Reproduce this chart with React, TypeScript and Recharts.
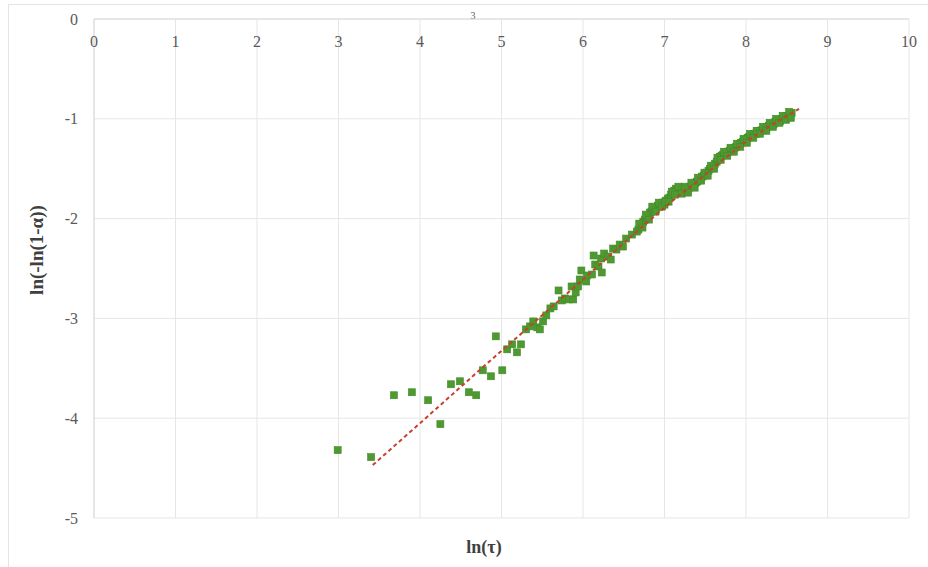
import { ScatterChart, Scatter, XAxis, YAxis, CartesianGrid } from 'recharts';

// sparse points at short times
const lowPoints: [number, number][] = [
  [2.99, -4.32], [3.4, -4.39], [3.68, -3.77], [3.9, -3.74], [4.1, -3.82],
  [4.25, -4.06], [4.38, -3.66], [4.49, -3.63], [4.6, -3.74], [4.69, -3.77],
  [4.77, -3.52], [4.87, -3.58], [4.93, -3.18], [5.01, -3.52],
];

const midPoints: [number, number][] = [
  [5.07, -3.31], [5.13, -3.26], [5.19, -3.34], [5.24, -3.26], [5.3, -3.11],
  [5.35, -3.08], [5.39, -3.03], [5.44, -3.09], [5.47, -3.11], [5.51, -3.03],
  [5.55, -2.97], [5.6, -2.9], [5.64, -2.88], [5.7, -2.72], [5.74, -2.82],
  [5.78, -2.8], [5.83, -2.81], [5.86, -2.68], [5.88, -2.81], [5.91, -2.74],
  [5.94, -2.68], [5.96, -2.61], [5.98, -2.52], [6.04, -2.63], [6.05, -2.57],
  [6.11, -2.56], [6.13, -2.37], [6.15, -2.46], [6.19, -2.48], [6.22, -2.4],
  [6.23, -2.54], [6.26, -2.35], [6.31, -2.38], [6.34, -2.41], [6.37, -2.3],
  [6.41, -2.31], [6.45, -2.26], [6.49, -2.28], [6.53, -2.2], [6.6, -2.16],
  [6.66, -2.13],
];

const densePoints: [number, number][] = [
  [6.68, -2.11], [6.7, -2.08], [6.72, -2.06], [6.74, -2.03], [6.76, -2.01],
  [6.78, -1.99], [6.8, -1.97], [6.82, -1.94], [6.84, -1.93], [6.86, -1.91],
  [6.88, -1.89], [6.9, -1.9], [6.92, -1.87], [6.94, -1.88], [6.96, -1.85],
  [6.98, -1.84], [7.0, -1.86], [7.02, -1.82], [7.04, -1.8], [7.06, -1.79],
  [7.08, -1.76], [7.1, -1.75], [7.12, -1.72], [7.14, -1.7], [7.16, -1.72],
  [7.18, -1.69], [7.2, -1.73], [7.22, -1.71], [7.24, -1.72], [7.26, -1.7],
  [7.28, -1.72], [7.3, -1.69], [7.32, -1.68], [7.34, -1.66], [7.36, -1.67],
  [7.38, -1.64], [7.4, -1.63], [7.42, -1.61], [7.44, -1.6], [7.46, -1.58],
  [7.48, -1.57], [7.5, -1.55], [7.52, -1.54], [7.54, -1.52], [7.56, -1.5],
  [7.58, -1.49], [7.6, -1.47], [7.62, -1.45], [7.64, -1.43], [7.66, -1.41],
  [7.68, -1.38], [7.7, -1.37], [7.72, -1.36], [7.74, -1.36], [7.76, -1.34],
  [7.78, -1.33], [7.8, -1.32], [7.82, -1.31], [7.84, -1.3], [7.86, -1.29],
  [7.88, -1.28], [7.9, -1.26], [7.92, -1.25], [7.94, -1.24], [7.96, -1.23],
  [7.98, -1.21], [8.0, -1.21], [8.02, -1.19], [8.04, -1.18], [8.06, -1.18],
  [8.08, -1.16], [8.1, -1.15], [8.12, -1.15], [8.14, -1.13], [8.16, -1.12],
  [8.18, -1.12], [8.2, -1.11], [8.22, -1.1], [8.24, -1.1], [8.26, -1.08],
  [8.28, -1.07], [8.3, -1.07], [8.32, -1.05], [8.34, -1.05], [8.36, -1.03],
  [8.38, -1.03], [8.4, -1.01], [8.42, -1.02], [8.44, -1.0], [8.46, -0.99],
  [8.48, -0.99], [8.5, -0.97], [8.52, -0.98], [8.54, -0.95], [8.56, -0.94],
  // second layer, gives the band its width
  [6.69, -2.05], [6.73, -2.09], [6.77, -1.96], [6.81, -2.01], [6.85, -1.88],
  [6.89, -1.93], [6.93, -1.84], [6.97, -1.88], [7.01, -1.83], [7.05, -1.83],
  [7.09, -1.73], [7.13, -1.76], [7.17, -1.68], [7.21, -1.75], [7.25, -1.68],
  [7.29, -1.74], [7.33, -1.64], [7.37, -1.69], [7.41, -1.59], [7.45, -1.62],
  [7.49, -1.54], [7.53, -1.57], [7.57, -1.47], [7.61, -1.5], [7.65, -1.39],
  [7.69, -1.41], [7.73, -1.33], [7.77, -1.37], [7.81, -1.29], [7.85, -1.33],
  [7.89, -1.25], [7.93, -1.28], [7.97, -1.2], [8.01, -1.24], [8.05, -1.15],
  [8.09, -1.19], [8.13, -1.12], [8.17, -1.15], [8.21, -1.08], [8.25, -1.12],
  [8.29, -1.04], [8.33, -1.08], [8.37, -1.0], [8.41, -1.04], [8.45, -0.97],
  [8.49, -1.01], [8.53, -0.93], [8.55, -0.99],
];

// fitted trend curve
const trendX = [3.42, 4.0, 4.77, 5.4, 6.0, 6.7, 7.1, 7.4, 7.7, 8.0, 8.3, 8.65];
const trendY = [-4.47, -4.05, -3.49, -3.04, -2.61, -2.1, -1.82, -1.63, -1.42, -1.23, -1.07, -0.9];

const xTicks = [0, 1, 2, 3, 4, 5, 6, 7, 8, 9, 10];
const yTicks = [0, -1, -2, -3, -4, -5];

const points = [...lowPoints, ...midPoints, ...densePoints].map(([x, y]) => ({ x, y }));
const trend = trendX.map((x, i) => ({ x, y: trendY[i] }));

const FONT = '"Liberation Serif", "Times New Roman", serif';
const PLOT_TOP = 19;

const Square = (props: any) => {
  const { cx, cy } = props;
  if (cx == null || cy == null) return null;
  return <rect x={cx - 3.5} y={cy - 3.5} width={7} height={7} fill="#4e9a30" stroke="#438a28" strokeWidth={0.6} />;
};

const TopTick = (props: any) => {
  const { x, payload } = props;
  return (
    <text x={x} y={PLOT_TOP + 28} textAnchor="middle" fontFamily={FONT} fontSize={16} fill="#595959">
      {payload.value}
    </text>
  );
};

export default function App() {
  return (
    <div style={{ position: 'absolute', left: 0, top: 0, width: 928, height: 567, background: '#fff' }}>
      <div
        style={{
          position: 'absolute', left: 8, top: 4, right: 0, bottom: 0,
          borderLeft: '1px solid #e4e4e4', borderTop: '1px solid #e4e4e4',
        }}
      />
      <ScatterChart width={928} height={567} margin={{ top: PLOT_TOP - 1, right: 19, bottom: 49, left: 0 }}>
        <CartesianGrid stroke="#e6e6e6" />
        <XAxis
          type="number"
          dataKey="x"
          orientation="top"
          height={1}
          domain={[0, 10]}
          ticks={xTicks}
          tickLine={false}
          axisLine={{ stroke: '#d9d9d9' }}
          tick={TopTick}
          interval={0}
        />
        <YAxis
          type="number"
          dataKey="y"
          width={94}
          domain={[-5, 0]}
          ticks={yTicks}
          tickLine={false}
          axisLine={{ stroke: '#d9d9d9' }}
          tickMargin={10}
          interval={0}
          tick={{ fontFamily: FONT, fontSize: 16, fill: '#595959' }}
        />
        <Scatter data={points} shape={<Square />} isAnimationActive={false} />
        <Scatter
          data={trend}
          line={{ stroke: '#c8402c', strokeWidth: 2, strokeDasharray: '4 3' }}
          shape={() => null}
          isAnimationActive={false}
        />
        <text x={473} y={19} textAnchor="middle" fontFamily={FONT} fontSize={10} fill="#595959">3</text>
        <text
          x={36}
          y={250}
          transform="rotate(-90 36 250)"
          textAnchor="middle"
          dominantBaseline="central"
          fontFamily={FONT}
          fontSize={19}
          fontWeight="bold"
          fill="#404040"
        >
          ln(-ln(1-α))
        </text>
        <text x={484} y={553} textAnchor="middle" fontFamily={FONT} fontSize={18} fontWeight="bold" fill="#404040">
          ln(τ)
        </text>
      </ScatterChart>
    </div>
  );
}
